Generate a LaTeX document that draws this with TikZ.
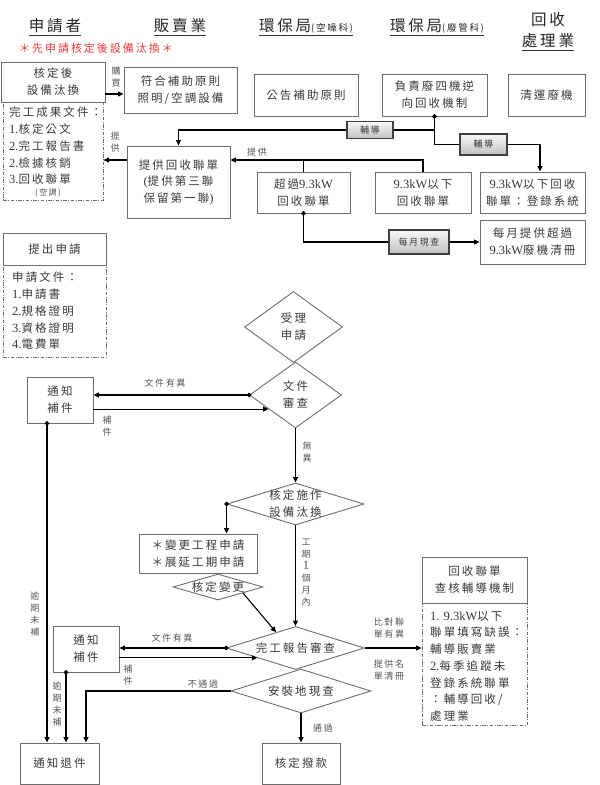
\documentclass[tikz,border=0pt]{standalone}
\usepackage{fontspec}
\setmainfont{Noto Sans CJK TC}
\newfontfamily\cj{Noto Sans CJK TC}[LetterSpace=18]
\newfontfamily\lat{Liberation Serif}
\newcommand\latn[1]{{\lat\fontsize{12.5}{16.7}\selectfont#1}}
\usetikzlibrary{arrows.meta,shapes.geometric,calc}
\definecolor{tx}{HTML}{3A3A3A}
\definecolor{bd}{HTML}{6E6E6E}
\definecolor{lb}{HTML}{555555}
\definecolor{rd}{HTML}{EE3A3A}
\tikzset{
  bx/.style={draw=bd, line width=0.9pt, text=tx, align=center, inner sep=0pt,
     font=\cj\fontsize{11.5}{17}\selectfont},
  dbx/.style={draw=bd, line width=0.8pt, dash pattern=on 3.5pt off 1.5pt on 1pt off 1.5pt, inner sep=0pt},
  dia/.style={diamond, draw=bd, line width=0.9pt, inner sep=0pt},
  dtx/.style={text=tx, align=center, inner sep=0pt, font=\cj\fontsize{11.5}{17}\selectfont},
  ltx/.style={text=tx, align=left, inner sep=0pt, anchor=north west, font=\cj\fontsize{11.5}{16.7}\selectfont},
  ln/.style={line width=1.1pt, draw=black},
  ar/.style={ln, -{Triangle[length=5.5pt,width=5pt]}},
  dar/.style={ln, shorten <=-2.25pt, {Circle[length=4.5pt]}-{Triangle[length=5.5pt,width=5pt]}},
  dln/.style={ln, shorten <=-2.25pt, {Circle[length=4.5pt]}-},
  lab/.style={text=lb, align=center, inner sep=0pt, font=\cj\fontsize{9}{12}\selectfont},
  shd/.style={draw=black!75, line width=1.2pt, top color=gray!5, bottom color=gray!50, text=tx, inner sep=0pt, font=\cj\fontsize{9}{10}\selectfont},
  hd/.style={text=black!85, inner sep=0pt, anchor=base, font=\cj\fontsize{15.5}{18}\selectfont},
  ul/.style={line width=0.9pt, draw=black!80},
}
\begin{document}
\begin{tikzpicture}[x=1pt,y=-1pt]
\useasboundingbox (0,0) rectangle (600,785);
\fill[white] (0,0) rectangle (600,785);
% headers
\node[hd] (h1) at (55,31) {申請者};
\node[hd] (h2) at (180,31) {販賣業};
\node[hd] (h3) at (306,31) {環保局{\fontsize{9.5}{10}\selectfont(空噪科)}};
\node[hd] (h4) at (437,31) {環保局{\fontsize{9.5}{10}\selectfont(廢管科)}};
\node[hd] (h5a) at (548,25) {回收};
\node[hd] (h5b) at (548,46) {處理業};
\foreach \h in {h1,h2,h3,h4}{\draw[ul] ([yshift=-4pt]\h.base west) -- ([yshift=-4pt]\h.base east);}
\draw[ul] ([yshift=-4pt]h5b.base west) -- ([yshift=-4pt]h5b.base east);
\node[text=rd, inner sep=0pt, font=\cj\fontsize{11}{12}\selectfont] (red) at (96,48) {＊先申請核定後設備汰換＊};
% top boxes
\node[bx, minimum width=104, minimum height=40] (b1) at (53,82) {核定後\\設備汰換};
\node[dbx, minimum width=100, minimum height=98] (d1) at (53,151) {};
\node[ltx] (d1t) at (9,107) {完工成果文件：\\\latn{1.}核定公文\\\latn{2.}完工報告書\\\latn{2.}檢據核銷\\\latn{3.}回收聯單};
\node[lab, font=\cj\fontsize{8}{10}\selectfont] (d1s) at (48,193) {(空調)};
\node[bx, minimum width=113, minimum height=46] (b2) at (180.5,90) {符合補助原則\\照明/空調設備};
\node[bx, minimum width=104, minimum height=42] (b3) at (306,95) {公告補助原則};
\node[bx, minimum width=105, minimum height=42] (b4) at (434.5,95) {負責廢四機逆\\向回收機制};
\node[bx, minimum width=77, minimum height=42] (b5) at (546.5,95) {清運廢機};
\node[bx, minimum width=103, minimum height=72, font=\cj\fontsize{11.5}{16.5}\selectfont] (b6) at (178.5,182) {提供回收聯單\\\latn{(}提供第三聯\\保留第一聯\latn{)}};
\node[bx, minimum width=93, minimum height=41] (b7) at (303.5,192.5) {超過\latn{9.3kW}\\回收聯單};
\node[bx, minimum width=96, minimum height=41] (b8) at (423,192.5) {\latn{9.3kW}以下\\回收聯單};
\node[bx, minimum width=105, minimum height=41] (b9) at (532.5,192.5) {\latn{9.3kW}以下回收\\聯單：登錄系統};
\node[bx, minimum width=105, minimum height=44] (b10) at (532.5,242) {每月提供超過\\\latn{9.3kW}廢機清冊};
\node[shd, minimum width=46, minimum height=17] (s1) at (370,130) {輔導};
\node[shd, minimum width=47, minimum height=21] (s2) at (483.5,144.5) {輔導};
\node[shd, minimum width=60, minimum height=24] (s3) at (419,242) {每月現查};
% application
\node[bx, minimum width=103, minimum height=32] (b11) at (54.5,249) {提出申請};
\node[dbx, minimum width=103, minimum height=92] (d2) at (54.5,311) {};
\node[ltx] (d2t) at (12,272) {申請文件：\\\latn{1.}申請書\\\latn{2.}規格證明\\\latn{3.}資格證明\\\latn{4.}電費單};
% flow
\node[dia, minimum width=98, minimum height=71] (D1) at (293.5,327) {};
\node[dtx] (D1t) at (D1) {受理\\申請};
\node[dia, minimum width=92, minimum height=66] (D2) at (295.5,395) {};
\node[dtx] (D2t) at (D2) {文件\\審查};
\node[bx, minimum width=66, minimum height=46] (b12) at (60,400) {通知\\補件};
\node[dia, minimum width=137, minimum height=42] (D3) at (295.5,504) {};
\node[dtx] (D3t) at (D3) {核定施作\\設備汰換};
\node[bx, minimum width=118, minimum height=39] (b13) at (198,553.5) {＊變更工程申請\\＊展延工期申請};
\node[dia, minimum width=90, minimum height=26] (D4) at (218,587) {};
\node[dtx] (D4t) at (D4) {核定變更};
\node[dia, minimum width=138, minimum height=43] (D5) at (295.5,648) {};
\node[dtx] (D5t) at (D5) {完工報告審查};
\node[dia, minimum width=140, minimum height=44] (D6) at (301,691) {};
\node[dtx] (D6t) at (D6) {安裝地現查};
\node[bx, minimum width=66, minimum height=46] (b14) at (86,649) {通知\\補件};
\node[bx, minimum width=79, minimum height=41] (b15) at (59.5,763.5) {通知退件};
\node[bx, minimum width=78, minimum height=41] (b16) at (301,763.5) {核定撥款};
\node[bx, minimum width=105, minimum height=46] (b17) at (474.5,580) {回收聯單\\查核輔導機制};
\node[dbx, minimum width=105, minimum height=122] (d3) at (474.5,664) {};
\node[ltx] (d3t) at (430,611) {\latn{1. 9.3kW}以下\\聯單填寫缺誤：\\輔導販賣業\\\latn{2.}每季追蹤未\\登錄系統聯單\\：輔導回收/\\處理業};
% connectors top
\draw[ar] (b1.east |- 0,94) -- (b2.west |- 0,94);
\draw[dln] (b4.south) -- (b4.south |- s2.west) -- (s2.west);
\coordinate (c1) at (540,144.5);
\draw[ar] (s2.east) -- (c1) -- (b9.north -| c1);
\draw[ln] (b4.south |- s1.east) -- (s1.east);
\draw[ar] (s1.west) -- (b6.north |- s1.west) -- (b6.north);
\coordinate (c2) at (0,160);
\draw[ln] (b7.north) -- (b7.north |- c2);
\draw[ar] (b8.north) -- (b8.north |- c2) -- (b6.east |- c2);
\draw[ar] (b6.west |- c2) -- (d1.east |- c2);
\draw[dln] (b7.south) -- (b7.south |- s3.west) -- (s3.west);
\draw[ar] (s3.east) -- (b10.west);
% connectors flow
\draw[dar] (D2.west) -- (b12.east |- D2.west);
\coordinate (p1) at ($(D2.west)!0.42!(D2.south)$);
\draw[ar] (b12.east |- p1) -- (p1);
\draw[ar] (D2.south) -- (D3.north);
\draw[dar] (D3.west) -- (D3.west |- b13.north);
\draw[ar] ($(D4.east)!0.45!(D4.south)$) -- ($(D5.west)!0.72!(D5.north)$);
\draw[ar] (D3.south) -- (D5.north);
\draw[dar] (D5.west) -- (b14.east |- D5.west);
\coordinate (p2) at ($(D5.west)!0.45!(D5.south)$);
\draw[ar] (b14.east |- p2) -- (p2);
\coordinate (x1) at (47,0);
\coordinate (x2) at (66,0);
\coordinate (x3) at (86,0);
\draw[dar] (b12.south -| x1) -- (b15.north -| x1);
\draw[dar] (b14.south -| x2) -- (b15.north -| x2);
\draw[ar] (D6.west) -- (D6.west -| x3) -- (b15.north -| x3);
\draw[ar] (D6.south) -- (b16.north);
\draw[ar] (D5.east) -- (d3.west |- D5.east);
% labels
\node[lab] (l1) at (116,77) {購\\買};
\node[lab] (l2) at (115,142) {提\\供};
\node[lab] (l3) at (257,152) {提供};
\node[lab] (l4) at (165,383) {文件有異};
\node[lab] (l5) at (107,426) {補\\件};
\node[lab] (l6) at (307,452) {無\\異};
\node[lab] (l7) at (306,573) {工\\期\\\latn{1}\\個\\月\\內};
\node[lab] (l8) at (35,614) {逾\\期\\未\\補};
\node[lab] (l9) at (172,638) {文件有異};
\node[lab] (l10) at (128,675) {補\\件};
\node[lab] (l11) at (57,704) {逾\\期\\未\\補};
\node[lab] (l12) at (203,684) {不通過};
\node[lab] (l13) at (323,728) {通過};
\node[lab] (l14) at (389,628) {比對聯\\單有異};
\node[lab] (l15) at (389,670) {提供名\\單清冊};
\end{tikzpicture}
\end{document}
